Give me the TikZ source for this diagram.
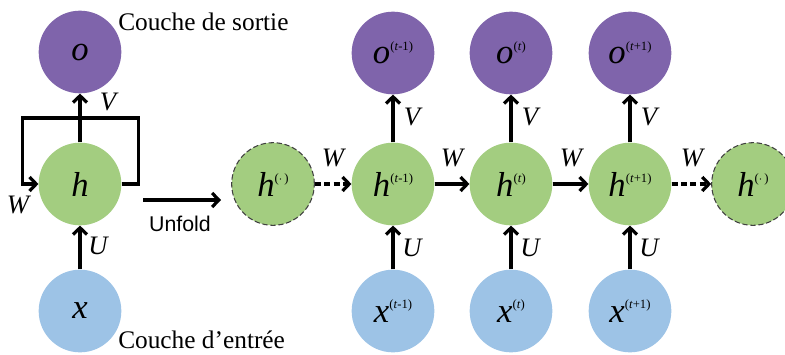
\documentclass[tikz,border=0pt]{standalone}
\usepackage{fontspec}
\setmainfont{Liberation Serif}
\newfontfamily\unfoldfont{Liberation Sans}
\usetikzlibrary{arrows.meta,calc}
\definecolor{outc}{HTML}{7F64AB}
\definecolor{hidc}{HTML}{A3CD80}
\definecolor{inc}{HTML}{9DC3E6}
\definecolor{dashc}{HTML}{404040}
\newcommand{\bigletter}[1]{{\fontsize{26}{26}\selectfont\textit{#1}}}
\newcommand{\supr}[1]{\raisebox{10pt}{\fontsize{9.5}{9.5}\selectfont(#1)}}
\begin{document}
\begin{tikzpicture}[x=0.75pt,y=-0.75pt,
  unit/.style={circle,minimum size=62pt,inner sep=0pt},
  outnode/.style={unit,fill=outc},
  hidnode/.style={unit,fill=hidc},
  innode/.style={unit,fill=inc},
  ghost/.style={unit,fill=hidc,draw=dashc,line width=0.8pt,dash pattern=on 4pt off 2pt},
  arr/.style={line width=2.4pt,-{Straight Barb[length=5pt,width=10.5pt,line width=2.4pt]}},
  darr/.style={arr,dash pattern=on 4.5pt off 2.5pt},
  wlabel/.style={font=\fontsize{20}{20}\selectfont\itshape,inner sep=0pt},
  layer/.style={font=\fontsize{19}{19}\selectfont,anchor=west,inner sep=0pt}
]
\useasboundingbox (0,0) rectangle (785,354);
% folded network
\node[outnode] (o) at (80,52) {\bigletter{o}};
\node[hidnode] (h) at (80,184) {\bigletter{h}};
\node[innode] (x) at (80,311) {\bigletter{x}};
\draw[arr] (h.north) -- (o.south);
\draw[arr] (x.north) -- (h.south);
\draw[arr] (h.east) -- ++(17,0) -- ++(0,-66) -- ++(-116,0) -- ++(0,66) -- (h.west);
\node[wlabel] (lv) at (108,102) {V};
\node[wlabel] (lu) at (98,246) {U};
\node[wlabel] (lw) at (18,205) {W};
\node[layer] (ls) at (118,22) {Couche de sortie};
\node[layer] (le) at (118,340) {Couche d’entrée};
% unfold arrow
\coordinate (ua) at (143,200);
\coordinate (ub) at (221,200);
\draw[arr] (ua) -- (ub);
\node[font=\unfoldfont\fontsize{16}{16}\selectfont,inner sep=0pt] (uf) at (180,224) {Unfold};
% unfolded network
\node[ghost] (hp) at (273,184) {\bigletter{h}\supr{$\cdot$\,}};
\node[hidnode] (h1) at (393,184) {\bigletter{h}\supr{\textit{t}-1}};
\node[hidnode] (h2) at (511,184) {\bigletter{h}\supr{\textit{t}}};
\node[hidnode] (h3) at (630,184) {\bigletter{h}\supr{\textit{t}+1}};
\node[ghost] (hn) at (753,184) {\bigletter{h}\supr{$\cdot$\,}};
\node[outnode] (o1) at (393,53) {\bigletter{o}\supr{\textit{t}-1}};
\node[outnode] (o2) at (511,53) {\bigletter{o}\supr{\textit{t}}};
\node[outnode] (o3) at (630,53) {\bigletter{o}\supr{\textit{t}+1}};
\node[innode] (x1) at (393,311) {\bigletter{x}\supr{\textit{t}-1}};
\node[innode] (x2) at (511,311) {\bigletter{x}\supr{\textit{t}}};
\node[innode] (x3) at (630,311) {\bigletter{x}\supr{\textit{t}+1}};
\foreach \i in {1,2,3}{
  \draw[arr] (h\i.north) -- (o\i.south);
  \draw[arr] (x\i.north) -- (h\i.south);
}
\draw[darr] (hp.east) -- (h1.west);
\draw[arr] (h1.east) -- (h2.west);
\draw[arr] (h2.east) -- (h3.west);
\draw[darr] (h3.east) -- (hn.west);
\node[wlabel] (v1) at (412,117) {V};
\node[wlabel] (v2) at (530,117) {V};
\node[wlabel] (v3) at (649,117) {V};
\node[wlabel] (u1) at (412,248) {U};
\node[wlabel] (u2) at (530,248) {U};
\node[wlabel] (u3) at (649,248) {U};
\node[wlabel] (w0) at (333,158) {W};
\node[wlabel] (w1) at (452,158) {W};
\node[wlabel] (w2) at (571,158) {W};
\node[wlabel] (w3) at (692,158) {W};
\end{tikzpicture}
\end{document}
